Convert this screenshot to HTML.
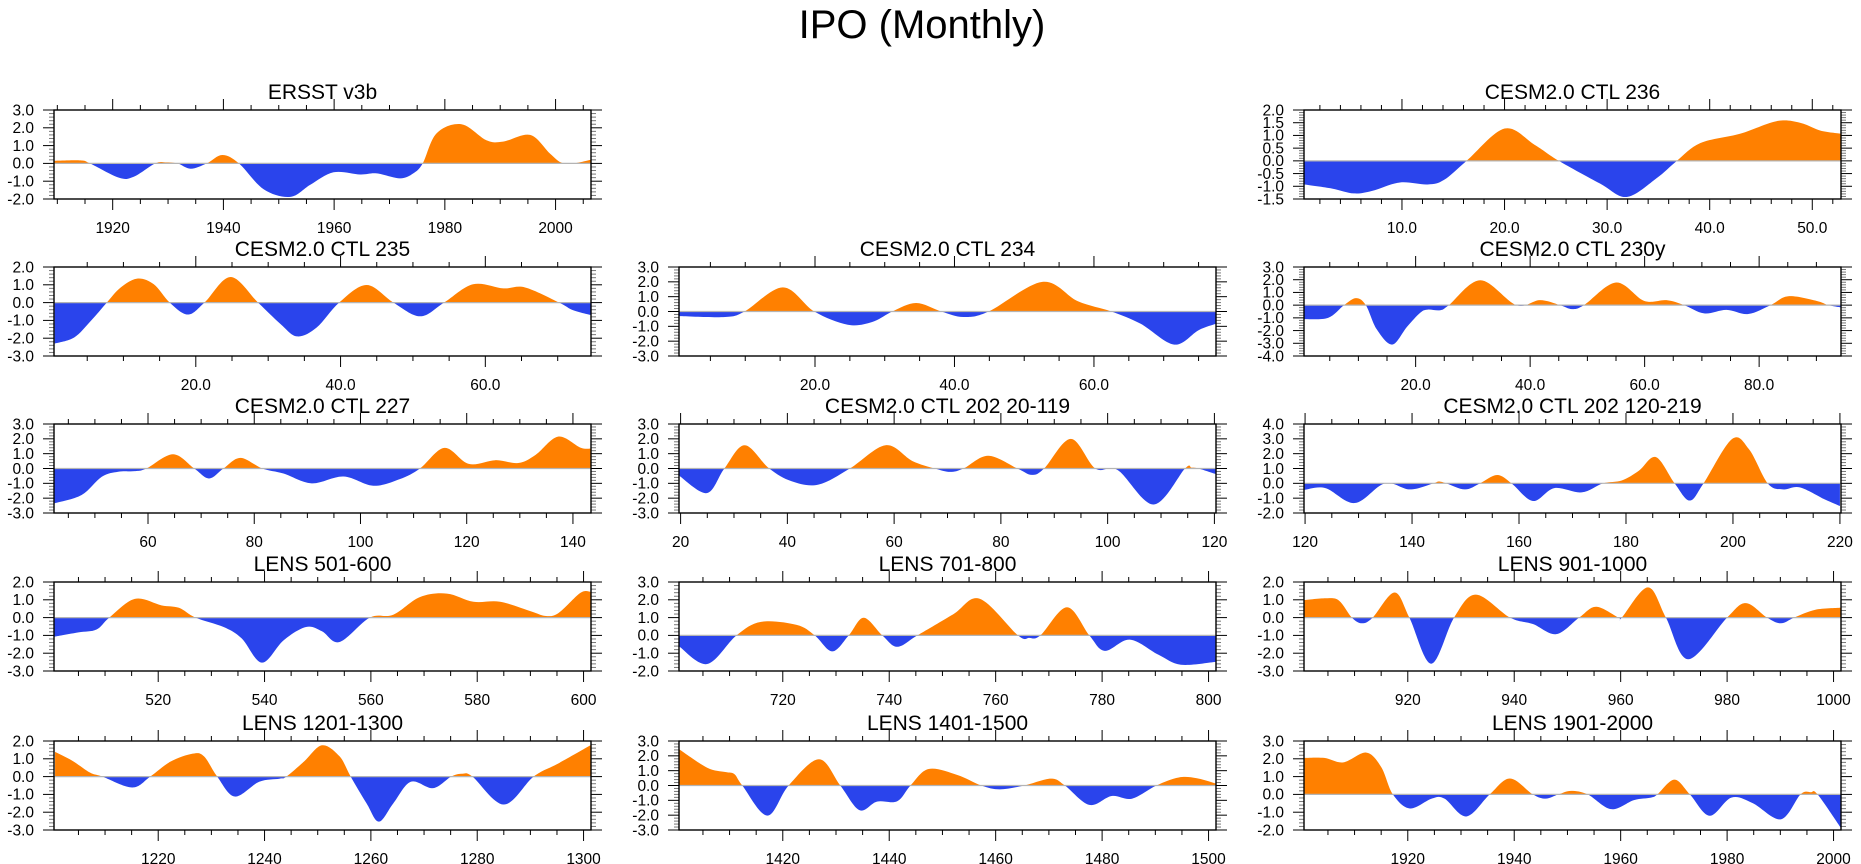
<!DOCTYPE html>
<html><head><meta charset="utf-8"><title>IPO (Monthly)</title>
<style>
html,body{margin:0;padding:0;background:#fff;}
svg{display:block;font-family:"Liberation Sans",Arial,sans-serif;}
</style></head>
<body>
<svg id="chart" width="1861" height="864" viewBox="0 0 1861 864" xmlns="http://www.w3.org/2000/svg">
<rect width="1861" height="864" fill="#fff"/>
<text x="922" y="38" font-size="40" text-anchor="middle" fill="#000">IPO (Monthly)</text>
<g id="panels"></g>
</svg>
<script>
// ---- data ----
const ersstX = [1909.5,1914.2,1915.9,1921.1,1923.8,1927.7,1929.5,1931.7,1934.1,1937,1939.8,1942.8,1947.3,1952.1,1955.7,1959.9,1964.7,1967.7,1971.9,1974.3,1976,1978.5,1983,1987.5,1990.5,1995.4,1998.9,2001,2003.2,2006.3];
const ersstY = [0.15,0.17,0,-0.8,-0.75,0,0.06,0,-0.3,0,0.47,0,-1.46,-1.88,-1.2,-0.5,-0.62,-0.56,-0.84,-0.56,0,1.69,2.2,1.3,1.22,1.6,0.58,0.05,0,0.2];
const ctl236X = [0.5,3.2,5.3,7.1,9.8,12.5,14.1,16.3,20,22.9,25.3,29.3,31.9,34.8,36.8,39.1,43,46.5,48.8,50.8,52.8];
const ctl236Y = [-0.93,-1.09,-1.28,-1.18,-0.85,-0.93,-0.75,0,1.27,0.64,0,-0.89,-1.42,-0.69,0,0.7,1.07,1.56,1.5,1.19,1.07];
const ctl235X = [0.5,3.2,5.5,7.7,9.6,11.9,14.2,16.4,18.9,21.2,24.8,28.6,31.7,34.0,36.7,39.8,43.6,47.3,51.0,54.3,58.3,62.5,65.5,70.2,72.1,74.6];
const ctl235Y = [-2.3,-1.96,-1.03,0,0.84,1.35,1.03,0,-0.67,0,1.44,0,-1.2,-1.9,-1.4,0,0.99,0,-0.77,0,1.03,0.8,0.85,0,-0.42,-0.7];
const ctl234X = [0.5,7.1,9.9,15.4,19.9,24.7,28.2,31.1,34.5,38.1,41.3,44.9,52.6,57.7,62.5,66.7,71.5,75,77.5];
const ctl234Y = [-0.31,-0.37,0,1.63,0,-0.89,-0.71,0,0.57,0,-0.37,0,2.0,0.69,0,-0.83,-2.23,-1.26,-0.83];
const ctl230X = [0.5,4.7,7.5,9.6,11.3,13.2,15.9,18.5,20.8,22.1,24.3,25.8,31.3,37.6,41.7,45.2,47.3,49.4,55,59.9,63.8,66.9,70.4,74.3,78.1,82,85.1,90,92.1,94.3];
const ctl230Y = [-1.1,-1.0,0,0.55,0,-1.9,-3.1,-1.7,-0.6,-0.35,-0.4,0,1.96,0,0.39,0,-0.31,0,1.78,0.34,0.39,0,-0.65,-0.37,-0.7,0,0.7,0.34,0,-0.18];
const ctl227X = [42.4,47.5,51.3,54.4,57.5,59.7,64.7,68.7,71.5,74.2,77.4,81.5,85.5,90.8,96.8,102.4,107.4,111.2,115.8,120.4,125.4,129.7,133,137.2,141.4,143.3];
const ctl227Y = [-2.35,-1.79,-0.56,-0.22,-0.18,0,0.96,0,-0.67,0,0.72,0,-0.34,-1.0,-0.54,-1.16,-0.72,0,1.39,0.31,0.56,0.37,0.93,2.15,1.41,1.34];
const ctl202aX = [19.8,24.9,28.2,32,36.6,40.8,45.8,51.7,58.4,63.4,67.6,70.5,73,77.6,83.1,85.8,88.1,93.1,97.7,101.9,108.6,114.5,115.7,117,120.2];
const ctl202aY = [-0.51,-1.66,0,1.57,0,-0.86,-1.09,0,1.57,0.51,0,-0.23,0,0.86,0,-0.43,0,2.0,0,-0.11,-2.43,0,0.06,0,-0.37];
const ctl202bX = [119.9,123.8,129.3,134.9,139.6,144,145,146.4,149.9,152.7,155.9,158.6,162.6,166.6,171.7,175.7,179.2,182.4,185.6,189.1,191.9,194.5,199.8,203,206.5,209.3,212.5,217.2,220];
const ctl202bY = [-0.44,-0.32,-1.33,0,-0.41,0,0.12,0,-0.41,0,0.56,0,-1.19,-0.32,-0.61,0,0.19,0.85,1.77,0,-1.16,0,2.98,2.3,0,-0.41,-0.27,-1.09,-1.53];
const lens501X = [500.5,505,508.4,510.8,515.6,520.6,523.9,527,532.3,535.7,539.5,543.6,547.8,550.8,554.1,559.8,564.2,569.2,574.3,579.3,584.3,590.2,592.7,595.2,599.4,601.3];
const lens501Y = [-1.07,-0.83,-0.67,0,1.05,0.69,0.55,0,-0.53,-1.17,-2.53,-1.27,-0.53,-0.77,-1.37,0,0.16,1.15,1.35,0.89,0.89,0.34,0.1,0.24,1.39,1.45];
const lens701X = [700.6,705.8,711.3,715.9,722.6,726,729.3,732.4,735.2,738.7,741.5,745.3,752,757,764.2,766.3,768.4,773.4,777.6,780.5,785.2,790.6,794.8,801.3];
const lens701Y = [-0.64,-1.61,0,0.76,0.59,0,-0.9,0,0.99,0,-0.64,0,1.18,2.06,0,-0.14,0,1.58,0,-0.87,-0.24,-1.09,-1.65,-1.49];
const lens901X = [900.6,904.7,907.1,909.5,911.4,913.4,917.5,920.3,924.4,928.7,932.8,939.2,943.5,947.9,952.2,955.4,959.6,960.2,965.1,968.5,972.7,980,983.5,987.5,990.1,992.6,996.6,1001.3];
const lens901Y = [0.99,1.09,0.95,0,-0.32,0,1.41,0,-2.59,0,1.29,0,-0.36,-0.93,0,0.61,0,0,1.7,0,-2.34,0,0.81,0,-0.32,0,0.44,0.55];
const lens1201X = [1200.6,1203.8,1207.2,1209.5,1215.1,1218.5,1222.3,1226.5,1228.6,1231.1,1234.4,1239,1242.8,1244.1,1247.4,1250.8,1254.1,1256.2,1259.2,1261.5,1264.2,1267.5,1271.7,1275.1,1277.2,1279.1,1285,1290.6,1295.2,1301.3];
const lens1201Y = [1.39,0.9,0.22,0,-0.61,0,0.84,1.29,1.14,0,-1.12,-0.29,-0.12,0,0.84,1.76,1.14,0,-1.51,-2.53,-1.51,-0.29,-0.65,0,0.16,0,-1.57,0,0.73,1.76];
const lens1401X = [1400.6,1405.8,1409.2,1410.9,1412.4,1417.1,1421.1,1426.8,1430.8,1434.4,1437.7,1441.5,1444,1447.4,1452.8,1457.3,1460.8,1465.4,1470.4,1473,1477.6,1481.8,1485.6,1490.2,1494.4,1497.8,1501.3];
const lens1401Y = [2.43,1.2,0.91,0.77,0,-2.03,0,1.77,0,-1.66,-1.09,-1.06,0,1.11,0.71,0,-0.26,0,0.46,0,-1.31,-0.71,-0.89,0,0.54,0.49,0.14];
const lens1901X = [1900.6,1904.3,1907.9,1912.2,1915,1917.2,1920.4,1924.5,1926.9,1931,1935.4,1939.2,1943.5,1945.9,1948.3,1950.7,1953.8,1958.2,1962.5,1965.7,1966.9,1970.1,1973,1976.7,1980.8,1984.8,1990.1,1993.8,1995.7,1997,2001.3];
const lens1901Y = [2.05,2.05,1.8,2.35,1.54,0,-0.79,-0.24,-0.24,-1.24,0,0.89,0,-0.24,0,0.2,0,-0.83,-0.32,-0.18,0,0.83,0,-1.2,-0.18,-0.49,-1.4,0,0.12,0,-1.85];

// ---- layout ----
const colX = [54, 679, 1304];
const rowY = [110, 267, 424, 582, 741];
const W = 537, H = 89;
const NS = 'http://www.w3.org/2000/svg';
const panels = [
 {name:'ersst', title:'ERSST v3b', c:0, r:0, x0:1909.4, x1:2006.4, xMaj:20, xMin:5, dec:0, y0:-2, y1:3, yStep:1, X:ersstX, Y:ersstY},
 {name:'ctl-236', title:'CESM2.0 CTL 236', c:2, r:0, x0:0.45, x1:52.8, xMaj:10, xMin:2, dec:1, y0:-1.5, y1:2, yStep:0.5, X:ctl236X, Y:ctl236Y},
 {name:'ctl-235', title:'CESM2.0 CTL 235', c:0, r:1, x0:0.41, x1:74.6, xMaj:20, xMin:5, dec:1, y0:-3, y1:2, yStep:1, X:ctl235X, Y:ctl235Y},
 {name:'ctl-234', title:'CESM2.0 CTL 234', c:1, r:1, x0:0.5, x1:77.5, xMaj:20, xMin:5, dec:1, y0:-3, y1:3, yStep:1, X:ctl234X, Y:ctl234Y},
 {name:'ctl-230y', title:'CESM2.0 CTL 230y', c:2, r:1, x0:0.5, x1:94.3, xMaj:20, xMin:5, dec:1, y0:-4, y1:3, yStep:1, X:ctl230X, Y:ctl230Y},
 {name:'ctl-227', title:'CESM2.0 CTL 227', c:0, r:2, x0:42.3, x1:143.4, xMaj:20, xMin:5, dec:0, y0:-3, y1:3, yStep:1, X:ctl227X, Y:ctl227Y},
 {name:'ctl-202-20-119', title:'CESM2.0 CTL 202 20-119', c:1, r:2, x0:19.7, x1:120.3, xMaj:20, xMin:5, dec:0, y0:-3, y1:3, yStep:1, X:ctl202aX, Y:ctl202aY},
 {name:'ctl-202-120-219', title:'CESM2.0 CTL 202 120-219', c:2, r:2, x0:119.8, x1:220.2, xMaj:20, xMin:5, dec:0, y0:-2, y1:4, yStep:1, X:ctl202bX, Y:ctl202bY},
 {name:'lens-501-600', title:'LENS 501-600', c:0, r:3, x0:500.4, x1:601.4, xMaj:20, xMin:5, dec:0, y0:-3, y1:2, yStep:1, X:lens501X, Y:lens501Y},
 {name:'lens-701-800', title:'LENS 701-800', c:1, r:3, x0:700.5, x1:801.4, xMaj:20, xMin:5, dec:0, y0:-2, y1:3, yStep:1, X:lens701X, Y:lens701Y},
 {name:'lens-901-1000', title:'LENS 901-1000', c:2, r:3, x0:900.5, x1:1001.4, xMaj:20, xMin:5, dec:0, y0:-3, y1:2, yStep:1, X:lens901X, Y:lens901Y},
 {name:'lens-1201-1300', title:'LENS 1201-1300', c:0, r:4, x0:1200.4, x1:1301.4, xMaj:20, xMin:5, dec:0, y0:-3, y1:2, yStep:1, X:lens1201X, Y:lens1201Y},
 {name:'lens-1401-1500', title:'LENS 1401-1500', c:1, r:4, x0:1400.5, x1:1501.4, xMaj:20, xMin:5, dec:0, y0:-3, y1:3, yStep:1, X:lens1401X, Y:lens1401Y},
 {name:'lens-1901-2000', title:'LENS 1901-2000', c:2, r:4, x0:1900.5, x1:2001.4, xMaj:20, xMin:5, dec:0, y0:-2, y1:3, yStep:1, X:lens1901X, Y:lens1901Y}
];

function mk(tag, attrs, parent){
  const e = document.createElementNS(NS, tag);
  for (const k in attrs) e.setAttribute(k, attrs[k]);
  if (parent) parent.appendChild(e);
  return e;
}
function smoothPath(pts){
  let d = '';
  for (let i=0;i<pts.length-1;i++){
    const p0 = pts[Math.max(0,i-1)], p1 = pts[i], p2 = pts[i+1], p3 = pts[Math.min(pts.length-1,i+2)];
    const c1x = p1[0]+(p2[0]-p0[0])/6, c1y = p1[1]+(p2[1]-p0[1])/6;
    const c2x = p2[0]-(p3[0]-p1[0])/6, c2y = p2[1]-(p3[1]-p1[1])/6;
    d += ` C${c1x.toFixed(2)},${c1y.toFixed(2)} ${c2x.toFixed(2)},${c2y.toFixed(2)} ${p2[0].toFixed(2)},${p2[1].toFixed(2)}`;
  }
  return d;
}

const root = document.getElementById('panels');
panels.forEach((p, idx) => {
  const L = colX[p.c], T = rowY[p.r], R = L + W, B = T + H;
  const sx = v => L + (v - p.x0) / (p.x1 - p.x0) * W;
  const sy = v => B - (v - p.y0) / (p.y1 - p.y0) * H;
  const g = mk('g', {}, root);
  
  

  const t = mk('text', {x: (L+R)/2, y: T-11, 'font-size': 21, 'text-anchor': 'middle', fill: '#000'}, g);
  t.textContent = p.title;
  
  

  const defs = mk('defs', {}, g);
  const z = sy(0);
  const cpU = mk('clipPath', {id: 'cu'+idx}, defs);
  mk('rect', {x: L, y: T, width: W, height: z - T}, cpU);
  const cpD = mk('clipPath', {id: 'cd'+idx}, defs);
  mk('rect', {x: L, y: z, width: W, height: B - z}, cpD);

  const pts = p.X.map((x, i) => [sx(x), sy(p.Y[i])]);
  const d = `M${pts[0][0].toFixed(2)},${z.toFixed(2)} L${pts[0][0].toFixed(2)},${pts[0][1].toFixed(2)}` + smoothPath(pts) + ` L${pts[pts.length-1][0].toFixed(2)},${z.toFixed(2)} Z`;
  const pos = mk('path', {d: d, fill: '#ff8000', 'clip-path': `url(#cu${idx})`}, g);
  
  
  const neg = mk('path', {d: d, fill: '#2a44ec', 'clip-path': `url(#cd${idx})`}, g);
  
  

  const zl = mk('line', {x1: L, x2: R, y1: z, y2: z, stroke: '#b4b4b4', 'stroke-width': 1.2}, g);
  
  

  const ax = mk('g', {stroke: '#000', 'stroke-width': 1}, g);
  
  
  const eps = 1e-6;
  const firstMin = Math.ceil((p.x0 - eps) / p.xMin) * p.xMin;
  for (let v = firstMin; v <= p.x1 + eps; v += p.xMin){
    const x = sx(v);
    const major = Math.abs(v / p.xMaj - Math.round(v / p.xMaj)) < 1e-6;
    const len = major ? 11 : 5;
    mk('line', {x1: x, x2: x, y1: B, y2: B + len}, ax);
    mk('line', {x1: x, x2: x, y1: T, y2: T - len}, ax);
    if (major){
      const lb = mk('text', {x: x, y: B + 34, 'font-size': 15.5, 'text-anchor': 'middle', fill: '#000', stroke: 'none'}, g);
      lb.textContent = p.dec ? v.toFixed(1) : String(Math.round(v));
      
      
    }
  }
  const yMinor = p.yStep / 5;
  const nMin = Math.round((p.y1 - p.y0) / yMinor);
  for (let i = 0; i <= nMin; i++){
    const v = p.y0 + i * yMinor;
    const y = sy(v);
    const major = i % 5 === 0;
    const len = major ? 11 : 5;
    mk('line', {x1: L, x2: L - len, y1: y, y2: y, stroke: major ? '#000' : '#777'}, ax);
    mk('line', {x1: R, x2: R + len, y1: y, y2: y, stroke: major ? '#000' : '#777'}, ax);
    if (major){
      const lb = mk('text', {x: L - 20, y: y + 5.3, 'font-size': 15.5, 'text-anchor': 'end', fill: '#000', stroke: 'none'}, g);
      lb.textContent = v.toFixed(1);
      
      
    }
  }
  const fr = mk('rect', {x: L, y: T, width: W, height: H, fill: 'none', stroke: '#000', 'stroke-width': 1.4}, g);
  
  
});
</script>
</body></html>
